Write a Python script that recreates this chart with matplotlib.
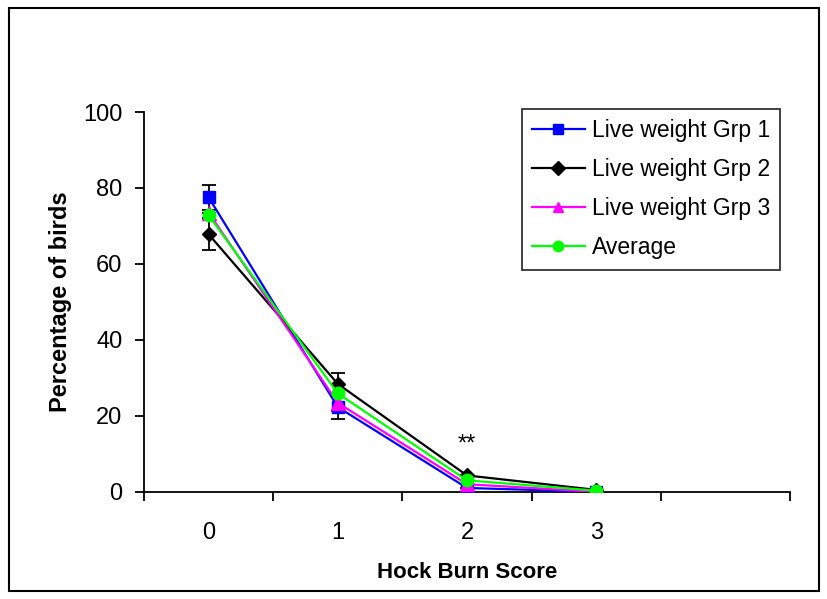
import matplotlib
matplotlib.use('Agg')
import matplotlib.pyplot as plt
import numpy as np
from matplotlib.patches import Rectangle

plt.rcParams['font.family'] = ['Liberation Sans', 'DejaVu Sans']

scores = ['0', '1', '2', '3']
grp1 = [77.5, 22.3, 1.0, 0.0]
grp1_err = [3.2, 3.2, 0.0, 0.0]
grp2 = [67.8, 28.4, 4.3, 0.5]
grp2_err = [4.2, 3.0, 0.0, 0.0]
grp3 = [73.5, 23.4, 2.0, 0.0]
grp3_err = [0.0, 2.2, 0.0, 0.0]
average = [72.8, 25.9, 3.0, 0.3]
signif_x = 2
signif_y = 12.5

fig = plt.figure(figsize=(8.28, 5.99), dpi=100)
ax = fig.add_axes([0.174, 0.179, 0.780, 0.634])

x = np.arange(len(scores))
series = [
    ('Live weight Grp 1', grp1, grp1_err, '#0000ff', 's', 8.5),
    ('Live weight Grp 2', grp2, grp2_err, '#000000', 'D', 7.5),
    ('Live weight Grp 3', grp3, grp3_err, '#ff00ff', '^', 9.5),
    ('Average', average, None, '#00ff00', 'o', 9),
]
for label, vals, err, col, mk, ms in series:
    ax.plot(x, vals, color=col, marker=mk, markersize=ms, lw=1.6,
            label=label, zorder=3)
    if err is not None:
        ax.errorbar(x, vals, yerr=err, fmt='none', ecolor='black',
                    elinewidth=1.3, capsize=4.7, capthick=1.3, zorder=2)

ax.text(signif_x, signif_y, '**', ha='center', va='center', fontsize=17)

ax.set_xlim(-0.5, 4.5)
ax.set_ylim(0, 100)
ax.set_xticks(np.arange(-0.5, 5, 1))
ax.set_xticklabels([])
ax.set_xticks(x, minor=True)
ax.set_xticklabels(scores, minor=True)
ax.tick_params(axis='x', which='minor', length=0, pad=22, labelsize=17)
ax.tick_params(axis='x', which='major', direction='out', length=6.5, width=1.3)
ax.set_yticks([0, 20, 40, 60, 80, 100])
ax.tick_params(axis='y', direction='out', length=6.5, width=1.3, labelsize=17, pad=9)

for s in ['top', 'right']:
    ax.spines[s].set_visible(False)
for s in ['left', 'bottom']:
    ax.spines[s].set_linewidth(1.3)

ax.set_xlabel('Hock Burn Score', fontsize=16, fontweight='bold', labelpad=13)
ax.set_ylabel('Percentage of birds', fontsize=17, fontweight='bold', labelpad=8)

leg = ax.legend(loc='upper right', bbox_to_anchor=(0.985, 1.008), fontsize=16.5,
                frameon=True, fancybox=False, edgecolor='black',
                handlelength=2.3, labelspacing=0.7, borderpad=0.45,
                handletextpad=0.3, borderaxespad=0)
leg.get_frame().set_linewidth(1.3)
for h in leg.legend_handles:
    h.set_markersize(7.5)

fig.patches.append(Rectangle((9 / 828, 8 / 599), 810 / 828, 583 / 599,
                             transform=fig.transFigure, fill=False,
                             edgecolor='black', lw=1.5))

fig.savefig('out.png', dpi=100)
